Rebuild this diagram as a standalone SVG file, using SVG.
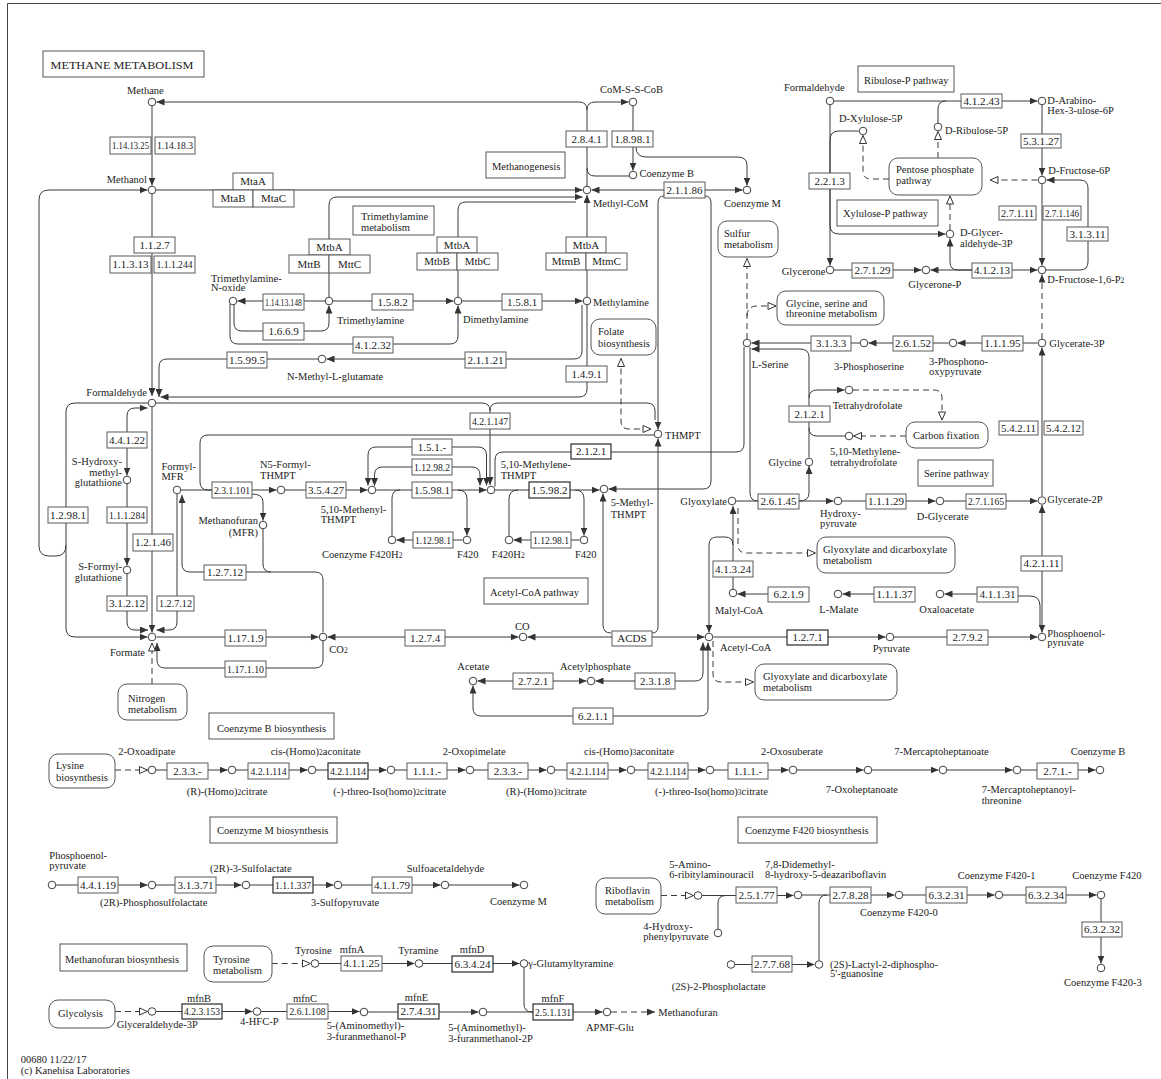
<svg xmlns="http://www.w3.org/2000/svg" width="1161" height="1079" viewBox="0 0 1161 1079">
<style>
text{font-family:"Liberation Serif","Times New Roman",serif;font-size:10.5px;fill:#222}
.r{text-anchor:end}
.e rect{fill:#fff;stroke:#5a5a5a;stroke-width:1}
.e text{text-anchor:middle;font-size:11px}
.e text.g{font-size:10.5px}
.b rect{stroke:#2a2a2a;stroke-width:1.2}
.c circle{fill:#fff;stroke:#404040;stroke-width:1}
.mp rect{fill:#fff;stroke:#555;stroke-width:1}
.lb rect{fill:#fff;stroke:#555;stroke-width:1}
.s{font-size:7.5px}
#cn path{fill:none;stroke:#3a3a3a;stroke-width:1}
#cn path.d{stroke-dasharray:6,4}
.ae{marker-end:url(#a)}
.as{marker-start:url(#a)}
.oe{marker-end:url(#o)}
.os{marker-start:url(#o)}
</style>
<defs>
<marker id="a" viewBox="0 0 8 7" refX="8" refY="3.5" markerWidth="8" markerHeight="7" markerUnits="userSpaceOnUse" orient="auto-start-reverse"><path d="M0,0L8,3.5L0,7z" fill="#333"/></marker>
<marker id="o" viewBox="-1 -1 10 9" refX="8" refY="3.5" markerWidth="10" markerHeight="9" markerUnits="userSpaceOnUse" orient="auto-start-reverse"><path d="M0,0L8,3.5L0,7z" fill="#fff" stroke="#333" stroke-width="1"/></marker>
</defs>
<rect width="1161" height="1079" fill="#fff"/>
<path d="M7.5,1079V3.5H1161" fill="none" stroke="#444" stroke-width="1"/>

<g id="cn">
<path class="ae" d="M587,110Q587,102 579,102H156.5"/>
<path class="ae" d="M587,110Q587,102 595,102H628.5"/>
<path d="M587,110V186"/>
<path d="M587,168Q587,176 595,176H629"/>
<path class="ae" d="M633,106V170.5"/>
<path class="ae" d="M636,147Q636,157 646,157H737Q747,157 747,165V185.5"/>
<path class="ae" d="M152,106V185.5"/>
<path class="ae" d="M156,190H582.5"/>
<path class="ae" d="M66,545Q66,556 56,556H49Q39,556 39,546V200Q39,190 49,190H147.5"/>
<path class="ae" d="M329,297V205Q329,197 337,197H582.5"/>
<path d="M458,297V210Q458,202 466,202H576"/>
<path class="ae" d="M587,297V195"/>
<path class="ae" d="M325,301H237.5"/>
<path class="ae" d="M234,305V323Q234,331 242,331H321Q329,331 329,323V305.5"/>
<path class="ae" d="M230,304V336Q230,344 238,344H450Q458,344 458,336V305.5"/>
<path class="ae" d="M333,301H453.5"/>
<path class="ae" d="M462,301H582.5"/>
<path class="ae" d="M582,305V351Q582,359 574,359H326.5"/>
<path class="ae" d="M318,359H167Q159,359 159,367V397"/>
<path class="ae" d="M587,305V389Q587,397 579,397H160.5"/>
<path class="ae" d="M152,194V396"/>
<path class="ae" d="M152,407V632.5"/>
<path class="ae" d="M156,403H482Q490,403 490,411V485"/>
<path d="M490,411Q490,403 498,403H647Q655,403 655,411V420"/>
<path class="ae" d="M664,196Q658,196 658,203V429.5"/>
<path class="ae" d="M705,196Q711,196 711,203V481Q711,489 703,489H608.5"/>
<path class="ae" d="M664,190H591.5"/>
<path class="ae" d="M705,190H742.5"/>
<path class="ae" d="M652,633Q658,633 658,627V438.5"/>
<path class="ae" d="M611,633Q603,633 603,625V493.5"/>
<path class="ae" d="M612,637H527.5"/>
<path class="ae" d="M652,637H704.5"/>
<path class="as ae" d="M327.5,637H518.5"/>
<path class="ae" d="M156.5,637H318.5"/>
<path class="ae" d="M323,641V660Q323,668 315,668H165Q157,668 157,660V643"/>
<path class="d oe" d="M152,684V643"/>
<path class="ae" d="M148,403H75Q66,403 66,412V628Q66,637 75,637H147.5"/>
<path class="as ae" d="M147.5,408H135Q127,408 127,416V475.5"/>
<path class="ae" d="M127,484V565.5"/>
<path class="ae" d="M127,574V622Q127,630 135,630H148"/>
<path class="ae" d="M177,494V622Q177,630 169,630H156.5"/>
<path class="ae" d="M323,632.5V580Q323,572 315,572H190Q182,572 182,564V495"/>
<path d="M263,529V564Q263,572 271,572"/>
<path class="ae" d="M181,490H276.5"/>
<path class="ae" d="M252,494Q263,494 263,502V520.5"/>
<path d="M654,435H208Q200,435 200,443V482Q200,490 208,490H212"/>
<path class="ae" d="M285,490H367.5"/>
<path class="as ae" d="M368,485.5V455Q368,447 376,447H478Q486.5,447 486.5,455V485.5"/>
<path class="as ae" d="M374.5,486V475Q374.5,467 382.5,467H472Q480,467 480,475V485.5"/>
<path class="ae" d="M376,490H486.5"/>
<path d="M400,490Q392,490 392,498V536"/>
<path class="ae" d="M458,490Q467,490 467,499V535.5"/>
<path class="ae" d="M462.5,540H396.5"/>
<path d="M518,490Q509,490 509,499V536"/>
<path class="ae" d="M575,490Q584,490 584,499V535.5"/>
<path class="ae" d="M579.5,540H513.5"/>
<path class="ae" d="M495,490H599.5"/>
<path d="M744,347V444Q744,452 736,452H503Q495,452 495,460V486.5"/>
<path d="M750,347V493Q750,501 758,501"/>
<path d="M736,501H758"/>
<path class="ae" d="M799,501H833.5"/>
<path class="ae" d="M799,501Q809,501 809,493V466"/>
<path class="ae" d="M809,457.5V357Q809,349 800,349H751.5"/>
<path class="ae" d="M809,398Q809,390 817,390H844.5"/>
<path d="M809,428Q809,436 817,436H845"/>
<path class="d oe" d="M853,390H934Q942,390 942,398V420"/>
<path class="d oe" d="M906,436H853.5"/>
<path class="ae" d="M860,343H751.5"/>
<path class="ae" d="M948.5,343H868.5"/>
<path class="ae" d="M1037.5,343H957.5"/>
<path class="ae" d="M1042,496V347.5"/>
<path class="ae" d="M842,501H935.5"/>
<path class="ae" d="M944,501H1037.5"/>
<path class="as ae" d="M1042,505V632.5"/>
<path d="M1018,596H1030Q1040,596 1040,606V625"/>
<path class="ae" d="M977,594H944.5"/>
<path class="ae" d="M874,594H842.5"/>
<path class="ae" d="M768,594H737.5"/>
<path class="ae" d="M733,589V506"/>
<path class="ae" d="M733,545Q733,537 725,537H717Q709,537 709,545V632.5"/>
<path class="d oe" d="M738,508V545Q738,553 746,553H815.5"/>
<path class="d oe" d="M713,641V674Q713,682 721,682H753.5"/>
<path class="ae" d="M713.5,637H885.5"/>
<path class="ae" d="M894,637H1037.5"/>
<path class="as ae" d="M595.5,681H695Q703,681 703,673V642.5"/>
<path class="as ae" d="M473,685.5V708Q473,716 481,716H700Q708,716 708,708V642.5"/>
<path class="as ae" d="M477.5,681H586.5"/>
<path class="ae" d="M834,101H1037.5"/>
<path d="M938,123V109Q938,101 946,101"/>
<path class="d oe" d="M938,158V131.5"/>
<path class="d oe" d="M889,179H871Q863,179 863,171V135.5"/>
<path class="d oe" d="M1037.5,180H990"/>
<path class="ae" d="M830,105V265.5"/>
<path class="ae" d="M858.5,131H839Q830,131 830,140V225Q830,234 839,234H945.5"/>
<path class="ae" d="M1042,184V265.5"/>
<path class="ae" d="M1042,105V175.5"/>
<path class="ae" d="M1046,270H1080Q1088,270 1088,262V188Q1088,180 1080,180H1046.5"/>
<path class="d ae" d="M1042,339V274.5"/>
<path class="d oe" d="M950,230V196"/>
<path class="as ae" d="M930.5,270H1037.5"/>
<path class="ae" d="M972,270H958Q950,270 950,262V238.5"/>
<path class="ae" d="M834,270H921.5"/>
<path class="d oe" d="M747,339V258.5"/>
<path class="d oe" d="M747,316Q747,306 757,306H776"/>
<path class="d os oe" d="M621,358.5V421Q621,429 629,429H651"/>
<path class="d oe" d="M115,770H147.5"/>
<path class="ae" d="M156,770H227.5"/>
<path class="ae" d="M236,770H307.5"/>
<path class="ae" d="M316,770H386.5"/>
<path class="ae" d="M395,770H465.5"/>
<path class="ae" d="M474,770H546.5"/>
<path class="ae" d="M555,770H626.5"/>
<path class="ae" d="M635,770H705.5"/>
<path class="ae" d="M714,770H788.5"/>
<path class="ae" d="M797,770H863.5"/>
<path class="ae" d="M872,770H938.5"/>
<path class="ae" d="M947,770H1012.5"/>
<path class="ae" d="M1021,770H1095.5"/>
<path class="ae" d="M56,885H147.5"/>
<path class="ae" d="M156,885H241.5"/>
<path class="ae" d="M250,885H333.5"/>
<path class="ae" d="M342,885H440.5"/>
<path class="ae" d="M449,885H519.5"/>
<path class="d oe" d="M271.7,963.5H310.5"/>
<path class="ae" d="M319,963.5H414.5"/>
<path class="ae" d="M423,963.5H519.5"/>
<path d="M524,967.5V1004Q524,1012 532,1012H533"/>
<path class="d oe" d="M115,1011.5H147.5"/>
<path class="ae" d="M156,1011.5H252.5"/>
<path class="ae" d="M261,1011.5H359.5"/>
<path class="ae" d="M368,1012H478.5"/>
<path class="ae" d="M487,1012H602.5"/>
<path class="d ae" d="M611,1012H655"/>
<path class="d oe" d="M661,895.5H693.5"/>
<path class="ae" d="M702,895.5H793.5"/>
<path d="M718,929V903Q718,895.5 726,895.5"/>
<path class="ae" d="M802,895H894.5"/>
<path d="M819,960.5V903Q819,895 827,895"/>
<path class="ae" d="M903,895H994.5"/>
<path class="ae" d="M1003,895H1096.5"/>
<path class="ae" d="M1101,899V963.5"/>
<path class="ae" d="M735,964.5H814.5"/>
</g>

<g id="labels">
<g id="title" class="lb"><rect x="43" y="51" width="161" height="26" stroke-width="2"/><text x="50.5" y="69" font-size="12" textLength="143" lengthAdjust="spacingAndGlyphs">METHANE METABOLISM</text></g>
<g id="l-methanogenesis" class="lb"><rect x="486" y="152" width="79" height="26"/><text x="492" y="170">Methanogenesis</text></g>
<g id="l-tma" class="lb"><rect x="353" y="206" width="81" height="29"/><text x="361" y="220">Trimethylamine</text><text x="361" y="230.5">metabolism</text></g>
<g id="l-acetylcoa" class="lb"><rect x="484" y="578" width="104" height="26"/><text x="490" y="596">Acetyl-CoA pathway</text></g>
<g id="l-ribulose" class="lb"><rect x="858" y="66" width="96" height="26"/><text x="864" y="83.5">Ribulose-P pathway</text></g>
<g id="l-xylulose" class="lb"><rect x="837" y="200" width="101" height="26"/><text x="843" y="217">Xylulose-P pathway</text></g>
<g id="l-serine" class="lb"><rect x="918" y="460" width="75" height="26"/><text x="924" y="477">Serine pathway</text></g>
<g id="l-cob" class="lb"><rect x="209" y="713" width="125" height="26"/><text x="217" y="731.5">Coenzyme B biosynthesis</text></g>
<g id="l-com" class="lb"><rect x="210" y="817" width="127" height="26"/><text x="217" y="834">Coenzyme M biosynthesis</text></g>
<g id="l-f420" class="lb"><rect x="738" y="817" width="139" height="26"/><text x="745" y="834">Coenzyme F420 biosynthesis</text></g>
<g id="l-mfr" class="lb"><rect x="60" y="944" width="127" height="27"/><text x="65" y="962.5">Methanofuran biosynthesis</text></g>
</g>

<g id="maps">
<g id="m-folate" class="mp"><rect x="591" y="319" width="65" height="36" rx="9"/><text x="598" y="335">Folate</text><text x="598" y="346.5">biosynthesis</text></g>
<g id="m-sulfur" class="mp"><rect x="718" y="221" width="60" height="36" rx="9"/><text x="724" y="236.5">Sulfur</text><text x="724" y="248">metabolism</text></g>
<g id="m-gst" class="mp"><rect x="777" y="291" width="107" height="34" rx="9"/><text x="786" y="306.5">Glycine, serine and</text><text x="786" y="317">threonine metabolism</text></g>
<g id="m-ppp" class="mp"><rect x="889" y="158" width="93" height="37" rx="9"/><text x="896" y="173">Pentose phosphate</text><text x="896" y="184">pathway</text></g>
<g id="m-cfix" class="mp"><rect x="906" y="422" width="82" height="26" rx="9"/><text x="913" y="438.5">Carbon fixation</text></g>
<g id="m-glyox1" class="mp"><rect x="817" y="537" width="138" height="36" rx="9"/><text x="823" y="553">Glyoxylate and dicarboxylate</text><text x="823" y="564">metabolism</text></g>
<g id="m-glyox2" class="mp"><rect x="755" y="664" width="142" height="36" rx="9"/><text x="763" y="680">Glyoxylate and dicarboxylate</text><text x="763" y="691">metabolism</text></g>
<g id="m-nitrogen" class="mp"><rect x="118" y="684" width="69" height="36" rx="9"/><text x="128" y="701.5">Nitrogen</text><text x="128" y="712.5">metabolism</text></g>
<g id="m-lysine" class="mp"><rect x="49" y="754" width="66" height="34" rx="9"/><text x="56" y="769">Lysine</text><text x="56" y="780.5">biosynthesis</text></g>
<g id="m-tyrosine" class="mp"><rect x="204" y="946" width="68" height="36" rx="9"/><text x="213" y="963">Tyrosine</text><text x="213" y="974">metabolism</text></g>
<g id="m-glycolysis" class="mp"><rect x="49" y="1000" width="66" height="28" rx="9"/><text x="58" y="1017">Glycolysis</text></g>
<g id="m-riboflavin" class="mp"><rect x="596" y="878" width="65" height="36" rx="9"/><text x="605" y="894">Riboflavin</text><text x="605" y="905">metabolism</text></g>
</g>

<g id="enzymes">
<g id="e1" class="e"><rect x="110" y="137" width="41" height="17"/><text x="130.5" y="149.2" textLength="37" lengthAdjust="spacingAndGlyphs">1.14.13.25</text></g>
<g id="e2" class="e"><rect x="155" y="137" width="40" height="17"/><text x="175" y="149.2" textLength="36" lengthAdjust="spacingAndGlyphs">1.14.18.3</text></g>
<g id="e3" class="e"><rect x="233" y="173" width="40" height="17"/><text x="253" y="185.2">MtaA</text></g>
<g id="e4" class="e"><rect x="213" y="190" width="40" height="17"/><text x="233" y="202.2">MtaB</text></g>
<g id="e5" class="e"><rect x="253" y="190" width="41" height="17"/><text x="273.5" y="202.2">MtaC</text></g>
<g id="e6" class="e"><rect x="134" y="237" width="41" height="16"/><text x="154.5" y="248.7">1.1.2.7</text></g>
<g id="e7" class="e"><rect x="110" y="256" width="41" height="17"/><text x="130.5" y="268.2" textLength="36" lengthAdjust="spacingAndGlyphs">1.1.3.13</text></g>
<g id="e8" class="e"><rect x="154" y="256" width="41" height="17"/><text x="174.5" y="268.2" textLength="36" lengthAdjust="spacingAndGlyphs">1.1.1.244</text></g>
<g id="e9" class="e"><rect x="309" y="239" width="41" height="16"/><text x="329.5" y="250.7">MtbA</text></g>
<g id="e10" class="e"><rect x="289" y="255" width="40" height="18"/><text x="309" y="267.7">MttB</text></g>
<g id="e11" class="e"><rect x="329" y="255" width="41" height="18"/><text x="349.5" y="267.7">MttC</text></g>
<g id="e12" class="e"><rect x="437" y="237" width="40" height="16"/><text x="457" y="248.7">MtbA</text></g>
<g id="e13" class="e"><rect x="417" y="253" width="40" height="17"/><text x="437" y="265.2">MtbB</text></g>
<g id="e14" class="e"><rect x="457" y="253" width="41" height="17"/><text x="477.5" y="265.2">MtbC</text></g>
<g id="e15" class="e"><rect x="566" y="237" width="40" height="16"/><text x="586" y="248.7">MtbA</text></g>
<g id="e16" class="e"><rect x="546" y="253" width="40" height="17"/><text x="566" y="265.2">MtmB</text></g>
<g id="e17" class="e"><rect x="586" y="253" width="41" height="17"/><text x="606.5" y="265.2">MtmC</text></g>
<g id="e18" class="e"><rect x="566" y="131" width="41" height="16"/><text x="586.5" y="142.7">2.8.4.1</text></g>
<g id="e19" class="e"><rect x="612" y="131" width="41" height="16"/><text x="632.5" y="142.7" textLength="36" lengthAdjust="spacingAndGlyphs">1.8.98.1</text></g>
<g id="e20" class="e"><rect x="664" y="182" width="41" height="16"/><text x="684.5" y="193.7" textLength="36" lengthAdjust="spacingAndGlyphs">2.1.1.86</text></g>
<g id="e21" class="e"><rect x="263" y="294" width="41" height="16"/><text x="283.5" y="305.7" textLength="37" lengthAdjust="spacingAndGlyphs">1.14.13.148</text></g>
<g id="e22" class="e"><rect x="372" y="294" width="41" height="16"/><text x="392.5" y="305.7">1.5.8.2</text></g>
<g id="e23" class="e"><rect x="502" y="294" width="40" height="16"/><text x="522" y="305.7">1.5.8.1</text></g>
<g id="e24" class="e"><rect x="263" y="323" width="41" height="17"/><text x="283.5" y="335.2">1.6.6.9</text></g>
<g id="e25" class="e"><rect x="353" y="337" width="40" height="16"/><text x="373" y="348.7" textLength="36" lengthAdjust="spacingAndGlyphs">4.1.2.32</text></g>
<g id="e26" class="e"><rect x="465" y="352" width="41" height="16"/><text x="485.5" y="363.7" textLength="36" lengthAdjust="spacingAndGlyphs">2.1.1.21</text></g>
<g id="e27" class="e"><rect x="227" y="352" width="40" height="16"/><text x="247" y="363.7" textLength="36" lengthAdjust="spacingAndGlyphs">1.5.99.5</text></g>
<g id="e28" class="e"><rect x="566" y="366" width="41" height="16"/><text x="586.5" y="377.7">1.4.9.1</text></g>
<g id="e29" class="e"><rect x="470" y="413" width="40" height="16"/><text x="490" y="424.7" textLength="36" lengthAdjust="spacingAndGlyphs">4.2.1.147</text></g>
<g id="e30" class="e"><rect x="412" y="439" width="40" height="16"/><text x="432" y="450.7">1.5.1.-</text></g>
<g id="e31" class="e"><rect x="412" y="459" width="40" height="16"/><text x="432" y="470.7" textLength="36" lengthAdjust="spacingAndGlyphs">1.12.98.2</text></g>
<g id="e32" class="e"><rect x="412" y="482" width="40" height="16"/><text x="432" y="493.7" textLength="36" lengthAdjust="spacingAndGlyphs">1.5.98.1</text></g>
<g id="e33" class="e b"><rect x="529" y="482" width="41" height="16"/><text x="549.5" y="493.7" textLength="36" lengthAdjust="spacingAndGlyphs">1.5.98.2</text></g>
<g id="e34" class="e b"><rect x="571" y="444" width="40" height="15"/><text x="591" y="455.2">2.1.2.1</text></g>
<g id="e35" class="e"><rect x="413" y="532" width="40" height="16"/><text x="433" y="543.7" textLength="36" lengthAdjust="spacingAndGlyphs">1.12.98.1</text></g>
<g id="e36" class="e"><rect x="531" y="532" width="40" height="16"/><text x="551" y="543.7" textLength="36" lengthAdjust="spacingAndGlyphs">1.12.98.1</text></g>
<g id="e37" class="e"><rect x="212" y="482" width="40" height="16"/><text x="232" y="493.7" textLength="36" lengthAdjust="spacingAndGlyphs">2.3.1.101</text></g>
<g id="e38" class="e"><rect x="306" y="482" width="40" height="16"/><text x="326" y="493.7" textLength="36" lengthAdjust="spacingAndGlyphs">3.5.4.27</text></g>
<g id="e39" class="e"><rect x="107" y="432" width="40" height="16"/><text x="127" y="443.7" textLength="36" lengthAdjust="spacingAndGlyphs">4.4.1.22</text></g>
<g id="e40" class="e"><rect x="107" y="507" width="40" height="16"/><text x="127" y="518.7" textLength="36" lengthAdjust="spacingAndGlyphs">1.1.1.284</text></g>
<g id="e41" class="e"><rect x="48" y="507" width="40" height="16"/><text x="68" y="518.7" textLength="36" lengthAdjust="spacingAndGlyphs">1.2.98.1</text></g>
<g id="e42" class="e"><rect x="133" y="534" width="40" height="17"/><text x="153" y="546.2" textLength="36" lengthAdjust="spacingAndGlyphs">1.2.1.46</text></g>
<g id="e43" class="e"><rect x="107" y="596" width="40" height="15"/><text x="127" y="607.2" textLength="36" lengthAdjust="spacingAndGlyphs">3.1.2.12</text></g>
<g id="e44" class="e"><rect x="157" y="596" width="37" height="15"/><text x="175.5" y="607.2" textLength="33" lengthAdjust="spacingAndGlyphs">1.2.7.12</text></g>
<g id="e45" class="e"><rect x="204" y="565" width="42" height="15"/><text x="225" y="576.2" textLength="36" lengthAdjust="spacingAndGlyphs">1.2.7.12</text></g>
<g id="e46" class="e"><rect x="225" y="630" width="41" height="16"/><text x="245.5" y="641.7" textLength="36" lengthAdjust="spacingAndGlyphs">1.17.1.9</text></g>
<g id="e47" class="e"><rect x="225" y="661" width="41" height="16"/><text x="245.5" y="672.7" textLength="37" lengthAdjust="spacingAndGlyphs">1.17.1.10</text></g>
<g id="e48" class="e"><rect x="405" y="630" width="40" height="16"/><text x="425" y="641.7">1.2.7.4</text></g>
<g id="e49" class="e"><rect x="612" y="631" width="40" height="15"/><text x="632" y="642.2">ACDS</text></g>
<g id="e50" class="e"><rect x="513" y="673" width="40" height="16"/><text x="533" y="684.7">2.7.2.1</text></g>
<g id="e51" class="e"><rect x="635" y="673" width="40" height="16"/><text x="655" y="684.7">2.3.1.8</text></g>
<g id="e52" class="e"><rect x="573" y="708" width="40" height="16"/><text x="593" y="719.7">6.2.1.1</text></g>
<g id="e53" class="e"><rect x="713" y="561" width="40" height="16"/><text x="733" y="572.7" textLength="36" lengthAdjust="spacingAndGlyphs">4.1.3.24</text></g>
<g id="e54" class="e"><rect x="768" y="587" width="41" height="15"/><text x="788.5" y="598.2">6.2.1.9</text></g>
<g id="e55" class="e"><rect x="874" y="587" width="41" height="15"/><text x="894.5" y="598.2" textLength="36" lengthAdjust="spacingAndGlyphs">1.1.1.37</text></g>
<g id="e56" class="e"><rect x="977" y="587" width="41" height="15"/><text x="997.5" y="598.2" textLength="36" lengthAdjust="spacingAndGlyphs">4.1.1.31</text></g>
<g id="e57" class="e b"><rect x="787" y="630" width="41" height="15"/><text x="807.5" y="641.2">1.2.7.1</text></g>
<g id="e58" class="e"><rect x="947" y="630" width="41" height="15"/><text x="967.5" y="641.2">2.7.9.2</text></g>
<g id="e59" class="e"><rect x="1021" y="556" width="41" height="15"/><text x="1041.5" y="567.2" textLength="36" lengthAdjust="spacingAndGlyphs">4.2.1.11</text></g>
<g id="e60" class="e"><rect x="758" y="494" width="41" height="15"/><text x="778.5" y="505.2" textLength="36" lengthAdjust="spacingAndGlyphs">2.6.1.45</text></g>
<g id="e61" class="e"><rect x="866" y="494" width="40" height="15"/><text x="886" y="505.2" textLength="36" lengthAdjust="spacingAndGlyphs">1.1.1.29</text></g>
<g id="e62" class="e"><rect x="966" y="494" width="40" height="15"/><text x="986" y="505.2" textLength="36" lengthAdjust="spacingAndGlyphs">2.7.1.165</text></g>
<g id="e63" class="e"><rect x="999" y="421" width="39" height="14"/><text x="1018.5" y="431.7" textLength="35" lengthAdjust="spacingAndGlyphs">5.4.2.11</text></g>
<g id="e64" class="e"><rect x="1044" y="421" width="39" height="14"/><text x="1063.5" y="431.7" textLength="35" lengthAdjust="spacingAndGlyphs">5.4.2.12</text></g>
<g id="e65" class="e"><rect x="811" y="336" width="40" height="15"/><text x="831" y="347.2">3.1.3.3</text></g>
<g id="e66" class="e"><rect x="893" y="336" width="40" height="15"/><text x="913" y="347.2" textLength="36" lengthAdjust="spacingAndGlyphs">2.6.1.52</text></g>
<g id="e67" class="e"><rect x="982" y="336" width="41" height="15"/><text x="1002.5" y="347.2" textLength="36" lengthAdjust="spacingAndGlyphs">1.1.1.95</text></g>
<g id="e68" class="e"><rect x="789" y="406" width="41" height="16"/><text x="809.5" y="417.7">2.1.2.1</text></g>
<g id="e69" class="e"><rect x="961" y="94" width="41" height="14"/><text x="981.5" y="104.7" textLength="36" lengthAdjust="spacingAndGlyphs">4.1.2.43</text></g>
<g id="e70" class="e"><rect x="1021" y="134" width="40" height="14"/><text x="1041" y="144.7" textLength="36" lengthAdjust="spacingAndGlyphs">5.3.1.27</text></g>
<g id="e71" class="e"><rect x="809" y="173" width="41" height="16"/><text x="829.5" y="184.7">2.2.1.3</text></g>
<g id="e72" class="e"><rect x="999" y="206" width="37" height="14"/><text x="1017.5" y="216.7" textLength="33" lengthAdjust="spacingAndGlyphs">2.7.1.11</text></g>
<g id="e73" class="e"><rect x="1043" y="206" width="38" height="14"/><text x="1062" y="216.7" textLength="34" lengthAdjust="spacingAndGlyphs">2.7.1.146</text></g>
<g id="e74" class="e"><rect x="1067" y="227" width="41" height="14"/><text x="1087.5" y="237.7" textLength="36" lengthAdjust="spacingAndGlyphs">3.1.3.11</text></g>
<g id="e75" class="e"><rect x="852" y="263" width="41" height="15"/><text x="872.5" y="274.2" textLength="36" lengthAdjust="spacingAndGlyphs">2.7.1.29</text></g>
<g id="e76" class="e"><rect x="972" y="263" width="40" height="15"/><text x="992" y="274.2" textLength="36" lengthAdjust="spacingAndGlyphs">4.1.2.13</text></g>
<g id="e77" class="e"><rect x="167" y="763" width="41" height="16"/><text x="187.5" y="774.7">2.3.3.-</text></g>
<g id="e78" class="e"><rect x="248" y="763" width="41" height="16"/><text x="268.5" y="774.7" textLength="36" lengthAdjust="spacingAndGlyphs">4.2.1.114</text></g>
<g id="e79" class="e b"><rect x="328" y="763" width="40" height="16"/><text x="348" y="774.7" textLength="36" lengthAdjust="spacingAndGlyphs">4.2.1.114</text></g>
<g id="e80" class="e"><rect x="407" y="763" width="40" height="16"/><text x="427" y="774.7">1.1.1.-</text></g>
<g id="e81" class="e"><rect x="488" y="763" width="40" height="16"/><text x="508" y="774.7">2.3.3.-</text></g>
<g id="e82" class="e"><rect x="567" y="763" width="41" height="16"/><text x="587.5" y="774.7" textLength="36" lengthAdjust="spacingAndGlyphs">4.2.1.114</text></g>
<g id="e83" class="e"><rect x="648" y="763" width="40" height="16"/><text x="668" y="774.7" textLength="36" lengthAdjust="spacingAndGlyphs">4.2.1.114</text></g>
<g id="e84" class="e"><rect x="728" y="763" width="40" height="16"/><text x="748" y="774.7">1.1.1.-</text></g>
<g id="e85" class="e"><rect x="1037" y="763" width="41" height="16"/><text x="1057.5" y="774.7">2.7.1.-</text></g>
<g id="e86" class="e"><rect x="78" y="877" width="40" height="16"/><text x="98" y="888.7" textLength="36" lengthAdjust="spacingAndGlyphs">4.4.1.19</text></g>
<g id="e87" class="e"><rect x="175" y="877" width="41" height="16"/><text x="195.5" y="888.7" textLength="36" lengthAdjust="spacingAndGlyphs">3.1.3.71</text></g>
<g id="e88" class="e b"><rect x="273" y="877" width="40" height="16"/><text x="293" y="888.7" textLength="36" lengthAdjust="spacingAndGlyphs">1.1.1.337</text></g>
<g id="e89" class="e"><rect x="372" y="877" width="40" height="16"/><text x="392" y="888.7" textLength="36" lengthAdjust="spacingAndGlyphs">4.1.1.79</text></g>
<g id="e90" class="e"><rect x="341" y="956" width="41" height="15"/><text x="361.5" y="967.2" textLength="36" lengthAdjust="spacingAndGlyphs">4.1.1.25</text><text class="g" x="352" y="953">mfnA</text></g>
<g id="e91" class="e b"><rect x="452" y="956" width="41" height="16"/><text x="472.5" y="967.7" textLength="36" lengthAdjust="spacingAndGlyphs">6.3.4.24</text><text class="g" x="472" y="953">mfnD</text></g>
<g id="e92" class="e b"><rect x="182" y="1004" width="40" height="15"/><text x="202" y="1015.2" textLength="36" lengthAdjust="spacingAndGlyphs">4.2.3.153</text><text class="g" x="199" y="1001.5">mfnB</text></g>
<g id="e93" class="e"><rect x="287" y="1004" width="41" height="15"/><text x="307.5" y="1015.2" textLength="36" lengthAdjust="spacingAndGlyphs">2.6.1.108</text><text class="g" x="305" y="1001.5">mfnC</text></g>
<g id="e94" class="e b"><rect x="398" y="1004" width="41" height="15"/><text x="418.5" y="1015.2" textLength="36" lengthAdjust="spacingAndGlyphs">2.7.4.31</text><text class="g" x="416.5" y="1001">mfnE</text></g>
<g id="e95" class="e b"><rect x="533" y="1004" width="40" height="16"/><text x="553" y="1015.7" textLength="36" lengthAdjust="spacingAndGlyphs">2.5.1.131</text><text class="g" x="553" y="1001.5">mfnF</text></g>
<g id="e96" class="e"><rect x="736" y="887" width="41" height="16"/><text x="756.5" y="898.7" textLength="36" lengthAdjust="spacingAndGlyphs">2.5.1.77</text></g>
<g id="e97" class="e"><rect x="830" y="887" width="41" height="16"/><text x="850.5" y="898.7" textLength="36" lengthAdjust="spacingAndGlyphs">2.7.8.28</text></g>
<g id="e98" class="e"><rect x="926" y="887" width="41" height="16"/><text x="946.5" y="898.7" textLength="36" lengthAdjust="spacingAndGlyphs">6.3.2.31</text></g>
<g id="e99" class="e"><rect x="1026" y="887" width="40" height="16"/><text x="1046" y="898.7" textLength="36" lengthAdjust="spacingAndGlyphs">6.3.2.34</text></g>
<g id="e100" class="e"><rect x="1082" y="922" width="40" height="15"/><text x="1102" y="933.2" textLength="36" lengthAdjust="spacingAndGlyphs">6.3.2.32</text></g>
<g id="e101" class="e"><rect x="752" y="956" width="40" height="16"/><text x="772" y="967.7" textLength="36" lengthAdjust="spacingAndGlyphs">2.7.7.68</text></g>
</g>

<g id="compounds" class="c">
<g id="c-methane"><circle cx="152" cy="102" r="3.8"/><text x="127" y="94">Methane</text></g>
<g id="c-comsscob"><circle cx="633" cy="102" r="3.8"/><text x="600" y="93">CoM-S-S-CoB</text></g>
<g id="c-methanol"><circle cx="152" cy="190" r="3.8"/><text class="r" x="147" y="183">Methanol</text></g>
<g id="c-cob"><circle cx="633" cy="175" r="3.8"/><text x="639.5" y="177">Coenzyme B</text></g>
<g id="c-methylcom"><circle cx="587" cy="190" r="3.8"/><text x="593" y="207">Methyl-CoM</text></g>
<g id="c-com"><circle cx="747" cy="190" r="3.8"/><text x="724" y="207">Coenzyme M</text></g>
<g id="c-tmao"><circle cx="233" cy="301" r="3.8"/><text x="211" y="281.5">Trimethylamine-</text><text x="211" y="291">N-oxide</text></g>
<g id="c-tma"><circle cx="329" cy="301" r="3.8"/><text x="337" y="324">Trimethylamine</text></g>
<g id="c-dma"><circle cx="458" cy="301" r="3.8"/><text x="463" y="323">Dimethylamine</text></g>
<g id="c-ma"><circle cx="587" cy="301" r="3.8"/><text x="593" y="306">Methylamine</text></g>
<g id="c-nmeglu"><circle cx="322" cy="359" r="3.8"/><text x="287" y="380">N-Methyl-L-glutamate</text></g>
<g id="c-hcho"><circle cx="152" cy="403" r="3.8"/><text class="r" x="147" y="396">Formaldehyde</text></g>
<g id="c-shmg"><circle cx="127" cy="480" r="3.8"/><text class="r" x="122" y="465">S-Hydroxy-</text><text class="r" x="122" y="475.5">methyl-</text><text class="r" x="122" y="486">glutathione</text></g>
<g id="c-fmfr"><circle cx="177" cy="490" r="3.8"/><text x="161.5" y="470">Formyl-</text><text x="161.5" y="480">MFR</text></g>
<g id="c-n5f"><circle cx="281" cy="490" r="3.8"/><text x="260" y="468">N5-Formyl-</text><text x="260" y="478.5">THMPT</text></g>
<g id="c-mfr"><circle cx="263" cy="525" r="3.8"/><text class="r" x="258" y="524">Methanofuran</text><text class="r" x="258" y="536">(MFR)</text></g>
<g id="c-methenyl"><circle cx="372" cy="490" r="3.8"/><text x="320.7" y="513">5,10-Methenyl-</text><text x="320.7" y="523">THMPT</text></g>
<g id="c-methylene"><circle cx="491" cy="490" r="3.8"/><text x="500.7" y="468">5,10-Methylene-</text><text x="500.7" y="479">THMPT</text></g>
<g id="c-5me"><circle cx="604" cy="489" r="3.8"/><text x="610.7" y="506">5-Methyl-</text><text x="610.7" y="518">THMPT</text></g>
<g id="c-f420h2a"><circle cx="392" cy="540" r="3.8"/><text x="322" y="558">Coenzyme F420H<tspan class="s">2</tspan></text></g>
<g id="c-f420a"><circle cx="467" cy="540" r="3.8"/><text x="457" y="558">F420</text></g>
<g id="c-f420h2b"><circle cx="509" cy="540" r="3.8"/><text x="491.7" y="558">F420H<tspan class="s">2</tspan></text></g>
<g id="c-f420b"><circle cx="584" cy="540" r="3.8"/><text x="575" y="558">F420</text></g>
<g id="c-thmpt"><circle cx="658" cy="434" r="3.8"/><text x="665" y="438.5">THMPT</text></g>
<g id="c-sfg"><circle cx="127" cy="570" r="3.8"/><text class="r" x="122" y="570">S-Formyl-</text><text class="r" x="122" y="580.5">glutathione</text></g>
<g id="c-formate"><circle cx="152" cy="637" r="3.8"/><text class="r" x="145" y="656">Formate</text></g>
<g id="c-co2"><circle cx="323" cy="637" r="3.8"/><text x="329.3" y="653">CO<tspan class="s">2</tspan></text></g>
<g id="c-co"><circle cx="523" cy="637" r="3.8"/><text x="515" y="630">CO</text></g>
<g id="c-accoa"><circle cx="709" cy="637" r="3.8"/><text x="720" y="651">Acetyl-CoA</text></g>
<g id="c-acetate"><circle cx="473" cy="681" r="3.8"/><text x="457.3" y="670">Acetate</text></g>
<g id="c-acp"><circle cx="591" cy="681" r="3.8"/><text x="560" y="670">Acetylphosphate</text></g>
<g id="c-malylcoa"><circle cx="733" cy="593" r="3.8"/><text x="715" y="613.5">Malyl-CoA</text></g>
<g id="c-lmalate"><circle cx="838" cy="594" r="3.8"/><text x="819.3" y="612.5">L-Malate</text></g>
<g id="c-oaa"><circle cx="940" cy="594" r="3.8"/><text x="919.3" y="613">Oxaloacetate</text></g>
<g id="c-pyr"><circle cx="890" cy="637" r="3.8"/><text x="872.7" y="652">Pyruvate</text></g>
<g id="c-pep"><circle cx="1042" cy="637" r="3.8"/><text x="1047.3" y="636.5">Phosphoenol-</text><text x="1047.3" y="646">pyruvate</text></g>
<g id="c-glyox"><circle cx="732" cy="501" r="3.8"/><text class="r" x="727" y="504.5">Glyoxylate</text></g>
<g id="c-lser"><circle cx="747" cy="343" r="3.8"/><text x="751.7" y="368">L-Serine</text></g>
<g id="c-gly"><circle cx="809" cy="462" r="3.8"/><text class="r" x="801.7" y="466">Glycine</text></g>
<g id="c-hpyr"><circle cx="838" cy="501" r="3.8"/><text x="820" y="516.5">Hydroxy-</text><text x="820" y="527">pyruvate</text></g>
<g id="c-dglycerate"><circle cx="940" cy="501" r="3.8"/><text x="916.7" y="520">D-Glycerate</text></g>
<g id="c-g2p"><circle cx="1042" cy="500.5" r="3.8"/><text x="1047.3" y="503">Glycerate-2P</text></g>
<g id="c-g3p"><circle cx="1042" cy="343" r="3.8"/><text x="1049.3" y="347">Glycerate-3P</text></g>
<g id="c-phpyr"><circle cx="953" cy="343" r="3.8"/><text x="929" y="365">3-Phosphono-</text><text x="929" y="374.5">oxypyruvate</text></g>
<g id="c-pser"><circle cx="864" cy="343" r="3.8"/><text x="834" y="369.5">3-Phosphoserine</text></g>
<g id="c-thf"><circle cx="849" cy="390" r="3.8"/><text x="832.7" y="409">Tetrahydrofolate</text></g>
<g id="c-methf"><circle cx="849" cy="436" r="3.8"/><text x="830" y="455">5,10-Methylene-</text><text x="830" y="465.5">tetrahydrofolate</text></g>
<g id="c-hchor"><circle cx="830" cy="101" r="3.8"/><text x="784" y="91">Formaldehyde</text></g>
<g id="c-arab"><circle cx="1042" cy="101" r="3.8"/><text x="1047.3" y="103.5">D-Arabino-</text><text x="1047.3" y="114">Hex-3-ulose-6P</text></g>
<g id="c-xu5p"><circle cx="863" cy="131" r="3.8"/><text x="839" y="121.5">D-Xylulose-5P</text></g>
<g id="c-ru5p"><circle cx="938" cy="127" r="3.8"/><text x="945" y="134">D-Ribulose-5P</text></g>
<g id="c-f6p"><circle cx="1042" cy="180" r="3.8"/><text x="1048.3" y="173.5">D-Fructose-6P</text></g>
<g id="c-gap"><circle cx="950" cy="234" r="3.8"/><text x="960" y="236">D-Glycer-</text><text x="960" y="246.5">aldehyde-3P</text></g>
<g id="c-glycerone"><circle cx="830" cy="270" r="3.8"/><text class="r" x="825.5" y="274.5">Glycerone</text></g>
<g id="c-glyceronep"><circle cx="926" cy="270" r="3.8"/><text x="908.3" y="288">Glycerone-P</text></g>
<g id="c-fbp"><circle cx="1042" cy="270" r="3.8"/><text x="1047.3" y="283">D-Fructose-1,6-P<tspan class="s">2</tspan></text></g>

<g id="c-oxoadipate"><circle cx="152" cy="770" r="3.8"/><text x="118.3" y="755">2-Oxoadipate</text></g>
<g id="c-homo2cit"><circle cx="232" cy="770" r="3.8"/><text x="186.7" y="795">(R)-(Homo)<tspan class="s">2</tspan>citrate</text></g>
<g id="c-homo2acon"><circle cx="312" cy="770" r="3.8"/><text x="270.7" y="755">cis-(Homo)<tspan class="s">2</tspan>aconitate</text></g>
<g id="c-iso2cit"><circle cx="391" cy="770" r="3.8"/><text x="333.3" y="795">(-)-threo-Iso(homo)<tspan class="s">2</tspan>citrate</text></g>
<g id="c-oxopimelate"><circle cx="470" cy="770" r="3.8"/><text x="442.7" y="755">2-Oxopimelate</text></g>
<g id="c-homo3cit"><circle cx="551" cy="770" r="3.8"/><text x="506" y="795">(R)-(Homo)<tspan class="s">3</tspan>citrate</text></g>
<g id="c-homo3acon"><circle cx="631" cy="770" r="3.8"/><text x="584" y="755">cis-(Homo)<tspan class="s">3</tspan>aconitate</text></g>
<g id="c-iso3cit"><circle cx="710" cy="770" r="3.8"/><text x="655" y="795">(-)-threo-Iso(homo)<tspan class="s">3</tspan>citrate</text></g>
<g id="c-oxosuberate"><circle cx="793" cy="770" r="3.8"/><text x="761" y="755">2-Oxosuberate</text></g>
<g id="c-oxohept"><circle cx="868" cy="770" r="3.8"/><text x="825.7" y="793">7-Oxoheptanoate</text></g>
<g id="c-mercapto"><circle cx="943" cy="770" r="3.8"/><text x="894.3" y="755">7-Mercaptoheptanoate</text></g>
<g id="c-mercthr"><circle cx="1017" cy="770" r="3.8"/><text x="981.7" y="793">7-Mercaptoheptanoyl-</text><text x="981.7" y="803.5">threonine</text></g>
<g id="c-cob2"><circle cx="1100" cy="770" r="3.8"/><text x="1070.7" y="755">Coenzyme B</text></g>

<g id="c-pep2"><circle cx="52" cy="885" r="3.8"/><text x="49.3" y="859">Phosphoenol-</text><text x="49.3" y="869">pyruvate</text></g>
<g id="c-psl"><circle cx="152" cy="885" r="3.8"/><text x="100" y="905.5">(2R)-Phosphosulfolactate</text></g>
<g id="c-sl"><circle cx="246" cy="885" r="3.8"/><text x="210" y="872">(2R)-3-Sulfolactate</text></g>
<g id="c-spyr"><circle cx="338" cy="885" r="3.8"/><text x="311" y="905.5">3-Sulfopyruvate</text></g>
<g id="c-sacet"><circle cx="445" cy="885" r="3.8"/><text x="406.7" y="872">Sulfoacetaldehyde</text></g>
<g id="c-com2"><circle cx="524" cy="885" r="3.8"/><text x="490" y="905">Coenzyme M</text></g>

<g id="c-tyr"><circle cx="315" cy="963.5" r="3.8"/><text x="295" y="954">Tyrosine</text></g>
<g id="c-tyramine"><circle cx="419" cy="963.5" r="3.8"/><text x="398.3" y="954">Tyramine</text></g>
<g id="c-gglu"><circle cx="524" cy="963.5" r="3.8"/><text x="528.3" y="967">γ-Glutamyltyramine</text></g>
<g id="c-gap2"><circle cx="152" cy="1011.5" r="3.8"/><text x="116.7" y="1027.5">Glyceraldehyde-3P</text></g>
<g id="c-hfcp"><circle cx="257" cy="1011.5" r="3.8"/><text x="240" y="1024.5">4-HFC-P</text></g>
<g id="c-amfp"><circle cx="364" cy="1012" r="3.8"/><text x="326.7" y="1029">5-(Aminomethyl)-</text><text x="326.7" y="1040">3-furanmethanol-P</text></g>
<g id="c-amf2p"><circle cx="483" cy="1012" r="3.8"/><text x="448.3" y="1031">5-(Aminomethyl)-</text><text x="448.3" y="1042">3-furanmethanol-2P</text></g>
<g id="c-apmf"><circle cx="607" cy="1012" r="3.8"/><text x="586" y="1031">APMF-Glu</text></g>
<g id="c-methanofuran"><text x="658.3" y="1016">Methanofuran</text></g>

<g id="c-arib"><circle cx="698" cy="895.5" r="3.8"/><text x="669.3" y="868">5-Amino-</text><text x="669.3" y="878">6-ribitylaminouracil</text></g>
<g id="c-hpp"><circle cx="718" cy="933" r="3.8"/><text x="643.3" y="930">4-Hydroxy-</text><text x="643.3" y="940">phenylpyruvate</text></g>
<g id="c-dd"><circle cx="798" cy="895" r="3.8"/><text x="765" y="867.5">7,8-Didemethyl-</text><text x="765" y="877.5">8-hydroxy-5-deazariboflavin</text></g>
<g id="c-f0"><circle cx="899" cy="895" r="3.8"/><text x="860" y="916">Coenzyme F420-0</text></g>
<g id="c-f1"><circle cx="999" cy="895" r="3.8"/><text x="957.7" y="879">Coenzyme F420-1</text></g>
<g id="c-f420"><circle cx="1101" cy="895" r="3.8"/><text x="1072.3" y="879">Coenzyme F420</text></g>
<g id="c-f3"><circle cx="1101" cy="968" r="3.8"/><text x="1064" y="986">Coenzyme F420-3</text></g>
<g id="c-pl"><circle cx="731" cy="964.5" r="3.8"/><text x="671.7" y="990">(2S)-2-Phospholactate</text></g>
<g id="c-lpg"><circle cx="819" cy="964.5" r="3.8"/><text x="830" y="968">(2S)-Lactyl-2-diphospho-</text><text x="830" y="977">5'-guanosine</text></g>
</g>

<g id="footer"><text x="20.7" y="1063">00680 11/22/17</text><text x="20.7" y="1073.5">(c) Kanehisa Laboratories</text></g>
</svg>
